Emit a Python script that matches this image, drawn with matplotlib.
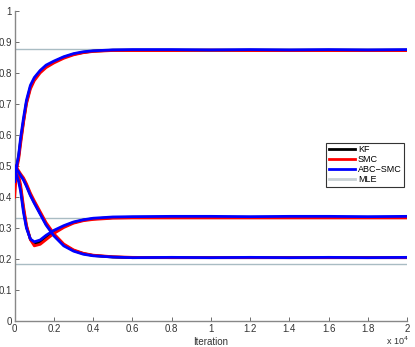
import matplotlib
matplotlib.use("Agg")
import matplotlib.pyplot as plt
from matplotlib.lines import Line2D

# iteration sample points
iters = [0, 100, 200, 300, 450, 600, 800, 1000, 1300, 1600, 2000, 2500, 3000,
         3500, 4000, 5000, 6000, 8000, 10000, 12000, 14000, 16000, 18000, 20000]

# parameter 1 (converges high)
kf_p1  = [0.50, 0.50, 0.53, 0.58, 0.645, 0.705, 0.754, 0.780, 0.805, 0.821, 0.835, 0.850, 0.860,
          0.866, 0.870, 0.873, 0.873, 0.873, 0.873, 0.873, 0.873, 0.873, 0.873, 0.873]
smc_p1 = [0.40, 0.49, 0.52, 0.57, 0.640, 0.700, 0.748, 0.775, 0.800, 0.817, 0.832, 0.847, 0.858,
          0.865, 0.869, 0.872, 0.872, 0.872, 0.873, 0.872, 0.872, 0.872, 0.872, 0.872]
abc_p1 = [0.45, 0.50, 0.535, 0.59, 0.655, 0.712, 0.760, 0.785, 0.808, 0.825, 0.838, 0.852, 0.862,
          0.868, 0.871, 0.874, 0.875, 0.875, 0.874, 0.875, 0.874, 0.875, 0.874, 0.875]

# parameter 2 (dips then rises)
kf_p2  = [0.50, 0.48, 0.46, 0.43, 0.36, 0.305, 0.264, 0.250, 0.255, 0.270, 0.288, 0.305, 0.318,
          0.326, 0.330, 0.334, 0.335, 0.335, 0.335, 0.335, 0.335, 0.335, 0.335, 0.335]
smc_p2 = [0.50, 0.49, 0.47, 0.44, 0.37, 0.310, 0.263, 0.243, 0.248, 0.263, 0.283, 0.302, 0.316,
          0.324, 0.328, 0.332, 0.333, 0.333, 0.333, 0.333, 0.333, 0.333, 0.333, 0.333]
abc_p2 = [0.48, 0.47, 0.45, 0.42, 0.35, 0.300, 0.265, 0.256, 0.262, 0.277, 0.293, 0.308, 0.320,
          0.327, 0.332, 0.336, 0.337, 0.338, 0.338, 0.337, 0.338, 0.338, 0.337, 0.338]

# parameter 3 (decreases slowly)
kf_p3  = [0.50, 0.49, 0.48, 0.47, 0.457, 0.438, 0.408, 0.383, 0.348, 0.313, 0.278, 0.246, 0.228,
          0.218, 0.212, 0.207, 0.205, 0.205, 0.205, 0.205, 0.205, 0.205, 0.205, 0.205]
smc_p3 = [0.50, 0.495, 0.485, 0.475, 0.462, 0.443, 0.413, 0.388, 0.353, 0.318, 0.282, 0.249, 0.230,
          0.219, 0.213, 0.208, 0.206, 0.205, 0.205, 0.205, 0.205, 0.205, 0.205, 0.205]
abc_p3 = [0.50, 0.49, 0.48, 0.47, 0.455, 0.435, 0.405, 0.380, 0.345, 0.310, 0.275, 0.243, 0.226,
          0.216, 0.211, 0.207, 0.205, 0.206, 0.205, 0.206, 0.205, 0.206, 0.205, 0.206]

mle_values = [0.877, 0.333, 0.184]

xtick_vals = [0, 2000, 4000, 6000, 8000, 10000, 12000, 14000, 16000, 18000, 20000]
xtick_labels = ["0", "0.2", "0.4", "0.6", "0.8", "1", "1.2", "1.4", "1.6", "1.8", "2"]
ytick_vals = [0, 0.1, 0.2, 0.3, 0.4, 0.5, 0.6, 0.7, 0.8, 0.9, 1.0]
ytick_labels = ["0", "0.1", "0.2", "0.3", "0.4", "0.5", "0.6", "0.7", "0.8", "0.9", "1"]

plt.rcParams['font.family'] = ['Liberation Sans', 'DejaVu Sans']

fig = plt.figure(figsize=(4.15, 3.47), dpi=100)
ax = fig.add_axes([0.0354, 0.074, 0.9455, 0.895])

mle_color = '#a9bcc3'
for v in mle_values:
    ax.axhline(v, color=mle_color, lw=1.0, zorder=1)

lw = 2.0
for ys in (kf_p1, kf_p2, kf_p3):
    ax.plot(iters, ys, color='black', lw=lw, zorder=2)
for ys in (smc_p1, smc_p2, smc_p3):
    ax.plot(iters, ys, color='#ff0000', lw=lw, zorder=3)
for ys in (abc_p1, abc_p2, abc_p3):
    ax.plot(iters, ys, color='#0000ff', lw=lw, zorder=4)

ax.set_xlim(0, 20000)
ax.set_ylim(0, 1)
ax.set_xticks(xtick_vals)
ax.set_xticklabels(xtick_labels)
ax.set_yticks(ytick_vals)
ax.set_yticklabels(ytick_labels)
ax.tick_params(direction='in', length=3, width=0.6, colors='#555555',
               labelcolor='#333333', labelsize=7, pad=2)
ax.spines['top'].set_visible(False)
ax.spines['right'].set_visible(False)
for s in ('left', 'bottom'):
    ax.spines[s].set_color('#888888')
    ax.spines[s].set_linewidth(1.0)

ax.set_xlabel('Iteration', fontsize=7, color='#333333', labelpad=2)
ax.text(0.947, -0.062, r'x 10$^{4}$', transform=ax.transAxes, fontsize=6.5,
        color='#333333', ha='left', va='center')

handles = [Line2D([], [], color='black', lw=lw),
           Line2D([], [], color='#ff0000', lw=lw),
           Line2D([], [], color='#0000ff', lw=lw),
           Line2D([], [], color='#c8d0d4', lw=lw)]
leg = ax.legend(handles, ['KF', 'SMC', 'ABC\u2212SMC', 'MLE'], loc='upper right',
                bbox_to_anchor=(0.993, 0.575), fontsize=6.5, fancybox=False,
                framealpha=1, edgecolor='#333333', borderpad=0.3,
                labelspacing=0.1, handlelength=2.9, handletextpad=0.3,
                borderaxespad=0)
leg.get_frame().set_linewidth(0.8)

fig.savefig('out.png', dpi=100)
